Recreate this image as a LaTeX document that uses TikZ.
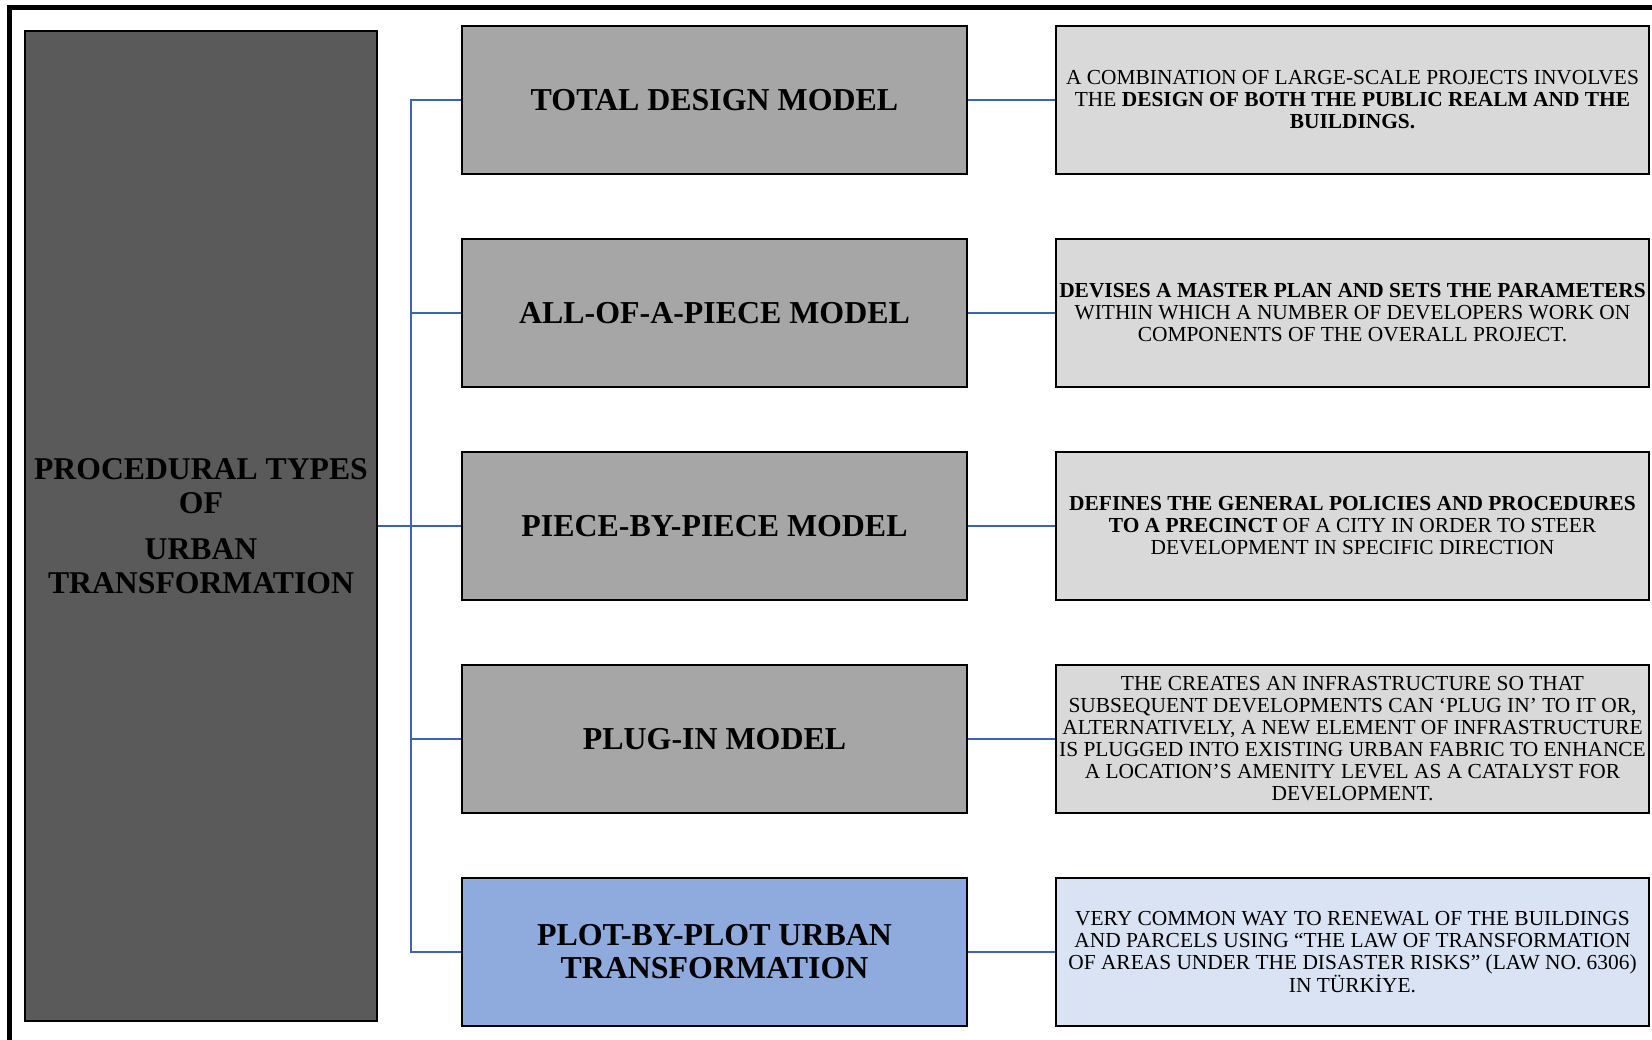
\documentclass[tikz,border=0pt]{standalone}
\usepackage{fontspec}
\setmainfont{Liberation Serif}
\definecolor{darkbox}{HTML}{5A5A5A}
\definecolor{midbox}{HTML}{A6A6A6}
\definecolor{lightbox}{HTML}{D9D9D9}
\definecolor{bluebox}{HTML}{8FAADC}
\definecolor{paleblue}{HTML}{DAE3F3}
\definecolor{linkblue}{HTML}{3E64AF}
\begin{document}
\begin{tikzpicture}[x=1pt,y=-1pt,
  box/.style={draw=black,line width=2pt,rectangle,inner sep=0pt,align=center},
  rootbox/.style={box,fill=darkbox,minimum width=352pt,minimum height=990pt,
    font=\fontsize{31.7}{33.5}\selectfont\bfseries},
  modelbox/.style={box,fill=midbox,minimum width=505pt,minimum height=148pt,
    font=\fontsize{31.9}{33}\selectfont\bfseries},
  descbox/.style={box,fill=lightbox,minimum width=593pt,minimum height=148pt,
    font=\fontsize{21.4}{22}\selectfont},
  conn/.style={draw=linkblue,line width=2.2pt}]
\useasboundingbox (0,0) rectangle (1652,1040);

% outer frame (open to the right and bottom)
\draw[line width=5pt] (9.5,1050) -- (9.5,7.5) -- (1665,7.5);

% root
\node[rootbox] (L) at (201,526) {PROCEDURAL TYPES\\ OF\\[13pt] URBAN\\ TRANSFORMATION};

% models
\node[modelbox] (M1) at (714.5,100) {TOTAL DESIGN MODEL};
\node[modelbox] (M2) at (714.5,313) {ALL-OF-A-PIECE MODEL};
\node[modelbox] (M3) at (714.5,526) {PIECE-BY-PIECE MODEL};
\node[modelbox] (M4) at (714.5,739) {PLUG-IN MODEL};
\node[modelbox,fill=bluebox] (M5) at (714.5,952) {PLOT-BY-PLOT URBAN\\ TRANSFORMATION};

% descriptions
\node[descbox] (R1) at (1352.5,100) {A COMBINATION OF LARGE-SCALE PROJECTS INVOLVES\\ THE \textbf{DESIGN OF BOTH THE PUBLIC REALM AND THE}\\ \textbf{BUILDINGS.}};
\node[descbox] (R2) at (1352.5,313) {\textbf{DEVISES A MASTER PLAN AND SETS THE PARAMETERS}\\ WITHIN WHICH A NUMBER OF DEVELOPERS WORK ON\\ COMPONENTS OF THE OVERALL PROJECT.};
\node[descbox] (R3) at (1352.5,526) {\textbf{DEFINES THE GENERAL POLICIES AND PROCEDURES}\\ \textbf{TO A PRECINCT} OF A CITY IN ORDER TO STEER\\ DEVELOPMENT IN SPECIFIC DIRECTION};
\node[descbox] (R4) at (1352.5,739) {THE CREATES AN INFRASTRUCTURE SO THAT\\ SUBSEQUENT DEVELOPMENTS CAN ‘PLUG IN’ TO IT OR,\\ ALTERNATIVELY, A NEW ELEMENT OF INFRASTRUCTURE\\ IS PLUGGED INTO EXISTING URBAN FABRIC TO ENHANCE\\ A LOCATION’S AMENITY LEVEL AS A CATALYST FOR\\ DEVELOPMENT.};
\node[descbox,fill=paleblue] (R5) at (1352.5,952) {VERY COMMON WAY TO RENEWAL OF THE BUILDINGS\\ AND PARCELS USING “THE LAW OF TRANSFORMATION\\ OF AREAS UNDER THE DISASTER RISKS” (LAW NO. 6306)\\ IN TÜRKİYE.};

% tree connectors
\coordinate (trunk) at (411,526);
\draw[conn] (L.east) -- (M3.west);
\draw[conn] (M1.west) -- (M1.west -| trunk) -- (M5.west -| trunk) -- (M5.west);
\draw[conn] (M2.west) -- (M2.west -| trunk);
\draw[conn] (M4.west) -- (M4.west -| trunk);
\foreach \i in {1,...,5}{\draw[conn] (M\i.east) -- (R\i.west);}
\end{tikzpicture}
\end{document}
